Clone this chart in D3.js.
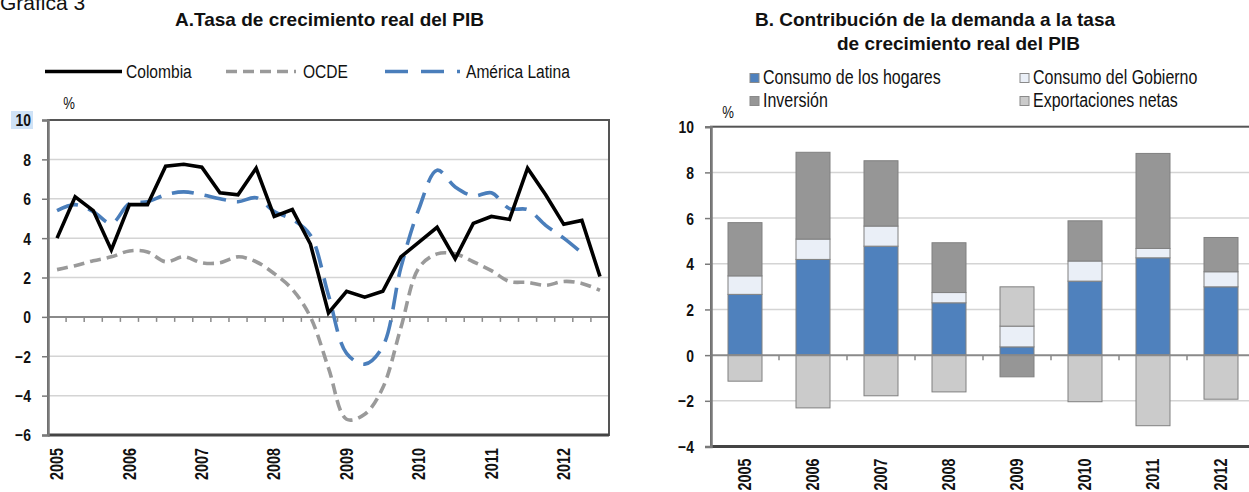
<!DOCTYPE html>
<html><head><meta charset="utf-8">
<script src="https://cdn.jsdelivr.net/npm/d3@7"></script>
<style>body{margin:0;background:#fff} svg{display:block}</style>
</head><body><svg id="c" width="1249" height="492"></svg>
<script>
// ---------- DATA ----------
const quarters = ["2005T1","2005T2","2005T3","2005T4","2006T1","2006T2","2006T3","2006T4",
  "2007T1","2007T2","2007T3","2007T4","2008T1","2008T2","2008T3","2008T4",
  "2009T1","2009T2","2009T3","2009T4","2010T1","2010T2","2010T3","2010T4",
  "2011T1","2011T2","2011T3","2011T4","2012T1","2012T2","2012T3"];
const yearLabels = ["2005","2006","2007","2008","2009","2010","2011","2012"];
const colombia = [4.0, 6.1, 5.4, 3.4, 5.7, 5.7, 7.65, 7.75, 7.6, 6.3, 6.2, 7.55, 5.1, 5.45, 3.7, 0.2,
  1.3, 1.0, 1.3, 3.05, 3.8, 4.55, 2.95, 4.75, 5.1, 4.95, 7.55, 6.2, 4.7, 4.9, 2.05];
const ocde = [2.4, 2.6, 2.85, 3.05, 3.35, 3.3, 2.8, 3.05, 2.75, 2.75, 3.05, 2.8, 2.2, 1.4, 0.0, -2.6,
  -5.2, -4.95, -3.6, -0.55, 2.5, 3.2, 3.2, 2.8, 2.35, 1.8, 1.75, 1.6, 1.8, 1.7, 1.35];
const americaLatina = [5.4, 5.7, 5.35, 4.75, 5.75, 5.85, 6.2, 6.35, 6.2, 6.0, 5.85, 6.05, 5.35, 4.95, 4.15, 1.1,
  -1.85, -2.4, -1.5, 2.5, 5.5, 7.45, 6.6, 6.15, 6.3, 5.5, 5.45, 4.65, 4.0, 3.25, null];
const leftTicks = [-6, -4, -2, 0, 2, 4, 6, 8, 10];

const years = ["2005","2006","2007","2008","2009","2010","2011","2012"];
const consumoHogares = [2.66, 4.19, 4.77, 2.29, 0.36, 3.24, 4.26, 2.99];
const consumoGobierno = [0.81, 0.89, 0.88, 0.45, 0.91, 0.88, 0.41, 0.66];
const inversion = [2.33, 3.80, 2.86, 2.18, -0.95, 1.76, 4.16, 1.50];
const exportacionesNetas = [-1.14, -2.31, -1.78, -1.61, 1.72, -2.04, -3.09, -1.93];
const rightTicks = [-4, -2, 0, 2, 4, 6, 8, 10];

// ---------- HELPERS ----------
const svg = d3.select("#c");
const FONT = "'Liberation Sans', Arial, Helvetica, sans-serif";
const NX = 0.82; // narrow-font horizontal compression
function ntext(parent, x, y, str, size, opts = {}) {
  return parent.append("text")
    .attr("transform", `translate(${x},${y})${opts.rotate ? " rotate(" + opts.rotate + ")" : ""} scale(${NX},1)`)
    .attr("font-family", FONT).attr("font-size", size)
    .attr("font-weight", opts.bold ? "bold" : "normal")
    .attr("text-anchor", opts.anchor || "start")
    .attr("dy", opts.dy || null)
    .attr("fill", "#111").text(str);
}
function wtext(parent, x, y, str, size, bold) {
  return parent.append("text").attr("x", x).attr("y", y)
    .attr("font-family", FONT).attr("font-size", size)
    .attr("font-weight", bold ? "bold" : "normal").attr("fill", "#111").text(str);
}

// ---------- HEADER ----------
wtext(svg, 0, 10, "Gráfica 3", 21, false);

// ================= LEFT CHART =================
const L = { x0: 48, x1: 609, y0: 120, y1: 435 };
const xL = d3.scaleBand().domain(quarters).range([L.x0, L.x1]);
const yL = d3.scaleLinear().domain([-6, 10]).range([L.y1, L.y0]);
const gL = svg.append("g");

wtext(gL, 175, 26, "A.Tasa de crecimiento real del PIB", 19, true);

// legend
const legL = gL.append("g");
const legItems = [
  { name: "Colombia", x0: 45, x1: 122, tx: 126, color: "#000", dash: null },
  { name: "OCDE", x0: 226, x1: 296, tx: 303, color: "#9a9a9a", dash: "11,6" },
  { name: "América Latina", x0: 385, x1: 460, tx: 466, color: "#4a7ebb", dash: "23,13" }
];
legItems.forEach(it => {
  legL.append("line").attr("x1", it.x0).attr("x2", it.x1).attr("y1", 71.5).attr("y2", 71.5)
    .attr("stroke", it.color).attr("stroke-width", 3.5).attr("stroke-dasharray", it.dash);
  ntext(legL, it.tx, 78, it.name, 19);
});

// gridlines
gL.selectAll("line.grid").data(leftTicks.filter(t => t !== 0 && t !== 10 && t !== -6)).join("line")
  .attr("x1", L.x0).attr("x2", L.x1).attr("y1", d => yL(d)).attr("y2", d => yL(d))
  .attr("stroke", "#d4d4d4").attr("stroke-width", 1.5);

// zero line with category ticks
gL.append("line").attr("x1", L.x0).attr("x2", L.x1).attr("y1", yL(0)).attr("y2", yL(0))
  .attr("stroke", "#8a8a8a").attr("stroke-width", 2);
gL.selectAll("line.qt").data(quarters.slice(1)).join("line")
  .attr("x1", d => xL(d)).attr("x2", d => xL(d)).attr("y1", yL(0)).attr("y2", yL(0) + 5)
  .attr("stroke", "#8a8a8a").attr("stroke-width", 1.5);

// lines
const cx = i => xL(quarters[i]) + xL.bandwidth() / 2;
const lineStraight = d3.line().defined(d => d != null).x((d, i) => cx(i)).y(d => yL(d));
const lineSmooth = d3.line().defined(d => d != null).x((d, i) => cx(i)).y(d => yL(d)).curve(d3.curveCatmullRom.alpha(0.5));
gL.append("path").datum(ocde).attr("d", lineSmooth).attr("fill", "none")
  .attr("stroke", "#9a9a9a").attr("stroke-width", 3.6).attr("stroke-dasharray", "11,6");
gL.append("path").datum(americaLatina).attr("d", lineSmooth).attr("fill", "none")
  .attr("stroke", "#4a7ebb").attr("stroke-width", 3.6).attr("stroke-dasharray", "22,11");
gL.append("path").datum(colombia).attr("d", lineStraight).attr("fill", "none")
  .attr("stroke", "#000").attr("stroke-width", 3.6).attr("stroke-linejoin", "miter");

// border
gL.append("rect").attr("x", L.x0).attr("y", L.y0).attr("width", L.x1 - L.x0).attr("height", L.y1 - L.y0)
  .attr("fill", "none").attr("stroke", "#555").attr("stroke-width", 2);
gL.append("line").attr("x1", L.x0).attr("x2", L.x1).attr("y1", L.y1).attr("y2", L.y1)
  .attr("stroke", "#444").attr("stroke-width", 3);

// y axis
gL.append("rect").attr("x", 11).attr("y", 111).attr("width", 22).attr("height", 18).attr("fill", "#cfe2f6");
const axL = gL.append("g").attr("transform", `translate(${L.x0},0)`)
  .call(d3.axisLeft(yL).tickValues(leftTicks).tickSize(6).tickFormat(d3.format("d")));
axL.select(".domain").attr("stroke", "#7a7a7a").attr("stroke-width", 2.5);
axL.selectAll(".tick line").attr("stroke", "#7a7a7a").attr("stroke-width", 1.5);
axL.selectAll(".tick text").attr("x", null).attr("dy", "0.35em")
  .attr("transform", `translate(-17,0) scale(${NX},1)`)
  .attr("font-family", FONT).attr("font-size", 17).attr("font-weight", "bold").attr("fill", "#111");
ntext(gL, 69, 109, "%", 16, { anchor: "middle" });

// year labels
const xLabL = gL.append("g").attr("transform", `translate(0,${L.y1})`)
  .call(d3.axisBottom(xL).tickValues(quarters.filter(q => q.endsWith("T1")))
    .tickFormat(q => q.slice(0, 4)).tickSize(0));
xLabL.select(".domain").remove();
xLabL.selectAll(".tick text").attr("x", null).attr("y", null).attr("dy", "0.35em")
  .attr("transform", `translate(0,13) rotate(-90) scale(${NX},1)`).attr("text-anchor", "end")
  .attr("font-family", FONT).attr("font-size", 17.5).attr("font-weight", "bold").attr("fill", "#111");

// ================= RIGHT CHART =================
const R = { x0: 711, x1: 1255, y0: 126.7, y1: 446.5 };
const xR = d3.scaleBand().domain(years).range([R.x0, R.x1]).paddingInner(0.5).paddingOuter(0.25);
const yR = d3.scaleLinear().domain([-4, 10]).range([R.y1, R.y0]);
const gR = svg.append("g");

wtext(gR, 755, 26, "B. Contribución de la demanda a la tasa", 19, true);
wtext(gR, 837, 50, "de crecimiento real del PIB", 19, true);

const keys = ["hogares", "gobierno", "inversion", "exportaciones"];
const names = { hogares: "Consumo de los hogares", gobierno: "Consumo del Gobierno",
  inversion: "Inversión", exportaciones: "Exportaciones netas" };
const colors = { hogares: "#4f81bd", gobierno: "#eaeff7", inversion: "#969696", exportaciones: "#cbcbcb" };

// legend
const legR = gR.append("g");
const legPos = { hogares: [750, 83.5], gobierno: [1020, 83.5], inversion: [750, 106.5], exportaciones: [1020, 106.5] };
keys.forEach(k => {
  const [lx, ly] = legPos[k];
  legR.append("rect").attr("x", lx).attr("y", ly - 10).attr("width", 9).attr("height", 9)
    .attr("fill", colors[k]).attr("stroke", "#8a8a8a").attr("stroke-width", 1);
  ntext(legR, lx + 13, ly, names[k], 19.5);
});

// gridlines
gR.selectAll("line.grid").data(rightTicks.filter(t => t !== 0 && t !== 10 && t !== -4)).join("line")
  .attr("x1", R.x0).attr("x2", R.x1).attr("y1", d => yR(d)).attr("y2", d => yR(d))
  .attr("stroke", "#d4d4d4").attr("stroke-width", 1.5);

// stacked bars
const table = years.map((y, i) => ({ year: y, hogares: consumoHogares[i], gobierno: consumoGobierno[i],
  inversion: inversion[i], exportaciones: exportacionesNetas[i] }));
const series = d3.stack().keys(keys).offset(d3.stackOffsetDiverging)(table);
gR.selectAll("g.s").data(series).join("g").attr("fill", s => colors[s.key])
  .selectAll("rect").data(s => s).join("rect")
  .attr("x", d => xR(d.data.year)).attr("width", xR.bandwidth())
  .attr("y", d => yR(Math.max(d[0], d[1]))).attr("height", d => Math.abs(yR(d[0]) - yR(d[1])))
  .attr("stroke", "#808080").attr("stroke-width", 1);

// zero line + category ticks
gR.append("line").attr("x1", R.x0).attr("x2", R.x1).attr("y1", yR(0)).attr("y2", yR(0))
  .attr("stroke", "#8a8a8a").attr("stroke-width", 2);
gR.selectAll("line.ct").data(years.slice(1)).join("line")
  .attr("x1", d => xR(d) - xR.step() * xR.paddingInner() / 2)
  .attr("x2", d => xR(d) - xR.step() * xR.paddingInner() / 2)
  .attr("y1", yR(0)).attr("y2", yR(0) + 5).attr("stroke", "#8a8a8a").attr("stroke-width", 1.5);

// border
gR.append("rect").attr("x", R.x0).attr("y", R.y0).attr("width", R.x1 - R.x0).attr("height", R.y1 - R.y0)
  .attr("fill", "none").attr("stroke", "#555").attr("stroke-width", 2);
gR.append("line").attr("x1", R.x0).attr("x2", R.x1).attr("y1", R.y1).attr("y2", R.y1)
  .attr("stroke", "#444").attr("stroke-width", 3);

// y axis
const axR = gR.append("g").attr("transform", `translate(${R.x0},0)`)
  .call(d3.axisLeft(yR).tickValues(rightTicks).tickSize(6).tickFormat(d3.format("d")));
axR.select(".domain").attr("stroke", "#7a7a7a").attr("stroke-width", 2.5);
axR.selectAll(".tick line").attr("stroke", "#7a7a7a").attr("stroke-width", 1.5);
axR.selectAll(".tick text").attr("x", null).attr("dy", "0.35em")
  .attr("transform", `translate(-17,0) scale(${NX},1)`)
  .attr("font-family", FONT).attr("font-size", 17).attr("font-weight", "bold").attr("fill", "#111");
ntext(gR, 728, 118, "%", 16, { anchor: "middle" });

// year labels
const xLabR = gR.append("g").attr("transform", `translate(0,${R.y1})`)
  .call(d3.axisBottom(xR).tickSize(0));
xLabR.select(".domain").remove();
xLabR.selectAll(".tick text").attr("x", null).attr("y", null).attr("dy", "0.35em")
  .attr("transform", `translate(0,12) rotate(-90) scale(${NX},1)`).attr("text-anchor", "end")
  .attr("font-family", FONT).attr("font-size", 17.5).attr("font-weight", "bold").attr("fill", "#111");
</script>
</body></html>
